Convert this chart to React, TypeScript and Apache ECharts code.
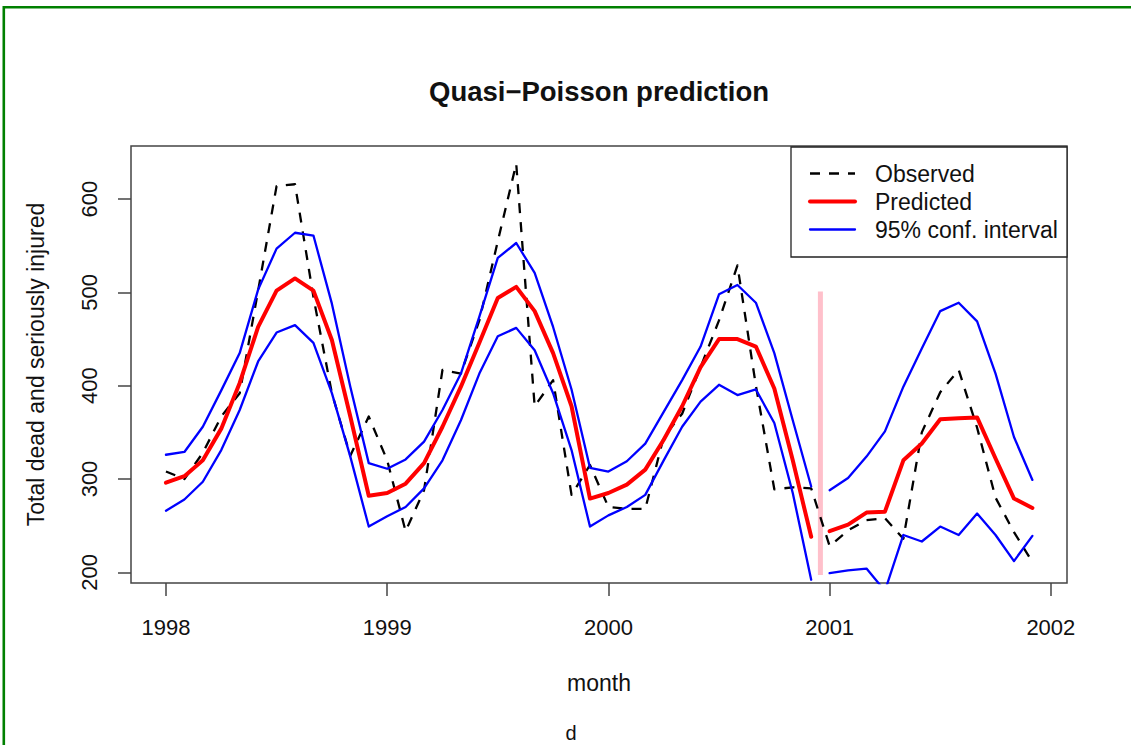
import React, { useEffect, useRef } from "react";
import * as echarts from "echarts";

// Monthly series, January 1998 to December 2001
const firstYear = 1998;
const yearTicks = [1998, 1999, 2000, 2001, 2002];
const countTicks = [200, 300, 400, 500, 600];

const observed = [
  308, 300, 328, 367, 392, 502, 614, 616, 495, 392, 325, 367,
  320, 244, 288, 417, 413, 470, 555, 638, 378, 406, 283, 315,
  270, 268, 268, 345, 370, 420, 470, 529, 400, 289, 291, 290,
  228, 245, 256, 258, 236, 350, 393, 417, 355, 280, 243, 211,
];
const predicted = [
  296, 303, 320, 354, 403, 463, 502, 515, 502, 449, 367, 282,
  285, 295, 317, 356, 399, 446, 494, 506, 480, 435, 378, 279,
  285, 294, 310, 342, 378, 420, 450, 450, 442, 397, 320, 238,
  244, 251, 264, 265, 320, 338, 364, 365, 366, 322, 279, 269,
];
const upper = [
  326, 329, 356, 395, 435, 503, 547, 564, 561, 488, 399, 317,
  311, 321, 340, 374, 413, 474, 537, 553, 521, 463, 396, 312,
  308, 319, 338, 372, 406, 442, 498, 508, 489, 435, 363, 292,
  288, 301, 324, 351, 399, 440, 480, 489, 469, 413, 345, 299,
];
const lower = [
  266, 278, 297, 331, 374, 426, 457, 465, 446, 392, 324, 249,
  260, 270, 290, 320, 363, 413, 453, 462, 438, 392, 331, 249,
  261, 270, 283, 320, 356, 383, 401, 390, 396, 360, 285, 192,
  199, 202, 204, 180, 240, 233, 249, 240, 263, 240, 212, 239,
];

// index of the first out-of-sample month, and the cut-off marker
const forecastStart = 36;
const cutoffX = 2000 + 23 / 24;
const cutoffRange = [197, 501];

const FONT = "'Liberation Sans', Arial, Helvetica, sans-serif";

export default function App() {
  const ref = useRef<HTMLDivElement>(null);

  useEffect(() => {
    const chart = echarts.init(ref.current!, null, { renderer: "svg" });
    const months = observed.map((_, i) => firstYear + i / 12);
    const pairs = (vals: number[]) => vals.map((v, i) => [months[i], v] as any[]);
    const broken = (vals: number[]) => {
      const p = pairs(vals);
      p.splice(forecastStart, 0, [cutoffX, "-"]);
      return p;
    };

    const lineBase = {
      type: "line",
      symbol: "none",
      silent: true,
      connectNulls: false,
      clip: true,
    };

    const legendRows = [
      { name: "Observed", color: "#000000", width: 2.3, dash: [10, 9] },
      { name: "Predicted", color: "#ff0000", width: 4, dash: null },
      { name: "95% conf. interval", color: "#0000ff", width: 2.3, dash: null },
    ];
    const legendX = 791;
    const legendY = 147;

    chart.setOption({
      animation: false,
      backgroundColor: "#ffffff",
      grid: {
        left: 131,
        top: 146,
        width: 936,
        height: 437,
        show: true,
        borderColor: "#444",
        borderWidth: 1.5,
        backgroundColor: "transparent",
      },
      xAxis: {
        type: "value",
        min: 1997.842,
        max: 2002.073,
        name: "month",
        nameLocation: "middle",
        nameGap: 88,
        nameTextStyle: { fontFamily: FONT, fontSize: 23, color: "#111" },
        axisLine: { show: false },
        splitLine: { show: false },
        axisTick: {
          show: true,
          length: 13,
          customValues: yearTicks,
          lineStyle: { color: "#444", width: 1.5 },
        },
        axisLabel: {
          customValues: yearTicks,
          margin: 33,
          fontFamily: FONT,
          fontSize: 22,
          color: "#111",
          formatter: (v: number) => String(v),
        },
      },
      yAxis: {
        type: "value",
        min: 188.5,
        max: 657,
        name: "Total dead and seriously injured",
        nameLocation: "middle",
        nameRotate: 90,
        nameGap: 84,
        nameTextStyle: { fontFamily: FONT, fontSize: 23, color: "#111" },
        axisLine: { show: false },
        splitLine: { show: false },
        axisTick: {
          show: true,
          length: 13,
          customValues: countTicks,
          lineStyle: { color: "#444", width: 1.5 },
        },
        axisLabel: {
          customValues: countTicks,
          rotate: 90,
          margin: 31,
          fontFamily: FONT,
          fontSize: 22,
          color: "#111",
          formatter: (v: number) => String(v),
        },
      },
      series: [
        {
          ...lineBase,
          name: "cutoff",
          data: cutoffRange.map((v) => [cutoffX, v]),
          lineStyle: { color: "#ffc0cb", width: 5, cap: "butt" },
        },
        {
          ...lineBase,
          name: "Observed",
          data: pairs(observed),
          lineStyle: { color: "#000", width: 2.3, type: [10, 9], cap: "butt", join: "round" },
        },
        {
          ...lineBase,
          name: "Upper",
          data: broken(upper),
          lineStyle: { color: "#0000ff", width: 2.3, cap: "round", join: "round" },
        },
        {
          ...lineBase,
          name: "Lower",
          data: broken(lower),
          lineStyle: { color: "#0000ff", width: 2.3, cap: "round", join: "round" },
        },
        {
          ...lineBase,
          name: "Predicted",
          data: broken(predicted),
          lineStyle: { color: "#ff0000", width: 4, cap: "round", join: "round" },
        },
      ],
      graphic: [
        // page frame
        { type: "line", shape: { x1: 3, y1: 7.3, x2: 1131, y2: 7.3 }, style: { stroke: "#008000", lineWidth: 2.6 } },
        { type: "line", shape: { x1: 3.8, y1: 6, x2: 3.8, y2: 745 }, style: { stroke: "#008000", lineWidth: 2.6 } },
        {
          type: "text",
          x: 599,
          y: 91,
          style: {
            text: "Quasi\u2212Poisson prediction",
            fontFamily: FONT,
            fontSize: 27.5,
            fontWeight: "bold",
            fill: "#111",
            align: "center",
            verticalAlign: "middle",
          },
        },
        {
          type: "text",
          x: 571,
          y: 733,
          style: {
            text: "d",
            fontFamily: FONT,
            fontSize: 20,
            fill: "#111",
            align: "center",
            verticalAlign: "middle",
          },
        },
        // legend
        {
          type: "rect",
          shape: { x: legendX, y: legendY, width: 276, height: 110 },
          style: { fill: "#fff", stroke: "#222", lineWidth: 1.3 },
          z: 10,
        },
        ...legendRows.flatMap((row, k) => {
          const y = 173.5 + k * 28;
          return [
            {
              type: "line",
              z: 11,
              shape: { x1: 810, y1: y, x2: 855, y2: y },
              style: {
                stroke: row.color,
                lineWidth: row.width,
                lineDash: row.dash || undefined,
                lineCap: row.dash ? "butt" : "round",
              },
            },
            {
              type: "text",
              z: 11,
              x: 875,
              y,
              style: {
                text: row.name,
                fontFamily: FONT,
                fontSize: 23,
                fill: "#111",
                align: "left",
                verticalAlign: "middle",
              },
            },
          ];
        }),
      ],
    });

    return () => chart.dispose();
  }, []);

  return (
    <div
      ref={ref}
      style={{ position: "fixed", left: 0, top: 0, width: 1131, height: 745, background: "#fff" }}
    />
  );
}
